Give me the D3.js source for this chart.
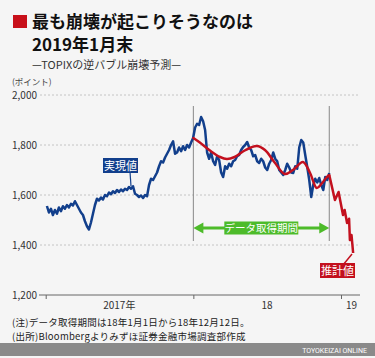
<!DOCTYPE html>
<html><head><meta charset="utf-8">
<script src="https://cdn.jsdelivr.net/npm/d3@7"></script>
<style>
html,body{margin:0;padding:0;background:#f5f5f5;}
svg{display:block;font-family:"Noto Sans CJK JP","Noto Sans",sans-serif;}
</style></head><body>
<svg id="c" width="375" height="358"></svg>
<script>
// ---- data ----
const title1 = "最も崩壊が起こりそうなのは";
const title2 = "2019年1月末";
const subtitle = "—TOPIXの逆バブル崩壊予測—";
const unitLabel = "(ポイント)";
const yTicks = [1200, 1400, 1600, 1800, 2000];
const yearTicks = ["2017-01-01", "2018-01-01", "2019-01-01"];
const yearLabels = ["2017年", "18", "19"];
const yearLabelDates = ["2017-07-02", "2018-07-02", "2019-01-27"];
const periodStart = "2018-01-01";
const periodEnd = "2018-12-03";
const actualStart = "2017-01-04";
const actualEnd = "2018-12-03";
const actualValues = [
 1556,1530,1545,1520,1540,1525,1550,1535,1555,1545,1560,1550,
 1565,1558,1575,1560,1545,1530,1520,1495,1475,1462,1490,1525,
 1560,1585,1578,1590,1582,1600,1595,1610,1603,1615,1608,1620,
 1612,1622,1615,1625,1620,1632,1625,1635,1605,1600,1592,1598,
 1588,1600,1595,1640,1665,1660,1675,1690,1715,1735,1730,1750,
 1765,1780,1800,1815,1765,1770,1790,1775,1795,1780,1800,1790,
 1810,1828,1870,1885,1880,1912,1895,1860,1770,1745,1770,1735,
 1720,1755,1740,1690,1672,1715,1705,1725,1715,1735,1740,1755,
 1760,1780,1792,1800,1812,1790,1780,1755,1760,1735,1728,1745,
 1735,1710,1700,1725,1740,1770,1745,1735,1700,1690,1680,1700,
 1725,1710,1690,1688,1715,1705,1790,1820,1810,1760,1712,1660,
 1592,1640,1665,1650,1668,1640,1620,1672,1660,1688
];
const fitDates = ["2018-01-01","2018-01-17","2018-02-11","2018-03-08","2018-03-25","2018-04-13",
 "2018-05-08","2018-06-07","2018-06-27","2018-07-21","2018-08-15","2018-09-04","2018-09-29",
 "2018-10-16","2018-11-02","2018-11-14","2018-11-27","2018-12-03"];
const fitValues = [1828,1810,1778,1752,1744,1752,1778,1796,1780,1730,1684,1700,1732,1690,1628,1645,1672,1680];
const forecastDates = ["2018-12-03","2018-12-17","2018-12-26","2019-01-06","2019-01-10","2019-01-16",
 "2019-01-21","2019-01-23","2019-01-27","2019-01-31"];
const forecastValues = [1680,1580,1612,1520,1540,1488,1505,1420,1440,1368];
const notes = ["(注)データ取得期間は18年1月1日から18年12月12日。",
 "(出所)Bloombergよりみずほ証券金融市場調査部作成"];
const actualLabel = "実現値", forecastLabel = "推計値", periodLabel = "データ取得期間";
const brand = "TOYOKEIZAI ONLINE";

// ---- drawing ----
const pd = d3.timeParse("%Y-%m-%d");
const svg = d3.select("#c");
const BLUE = "#123f8c", RED = "#c3101e", GREEN = "#4dbb2a";

const x = d3.scaleTime().domain([pd("2017-01-01"), pd("2019-01-01")]).range([45.7, 341]);
const y = d3.scaleLinear().domain([1200, 2000]).range([295, 95]);

svg.append("rect").attr("width",375).attr("height",358).attr("fill","#f5f5f5");

// title
svg.append("rect").attr("x",13).attr("y",15).attr("width",14).attr("height",13).attr("fill","#c8101a");
svg.append("text").attr("x",32).attr("y",28).attr("font-size",17).attr("font-weight","bold").attr("fill","#111").text(title1);
svg.append("text").attr("x",32).attr("y",51).attr("font-size",17).attr("font-weight","bold").attr("fill","#111").text(title2);
svg.append("text").attr("x",32).attr("y",69).attr("font-size",11).attr("fill","#333").text(subtitle);
svg.append("text").attr("x",12).attr("y",85).attr("font-size",8.5).attr("fill","#444").text(unitLabel);

// grid
const gy = svg.append("g");
yTicks.forEach(v => {
  if (v > 1200) gy.append("line").attr("x1",40).attr("x2",360).attr("y1",y(v)).attr("y2",y(v))
    .attr("stroke","#b8b8b8").attr("stroke-width",0.8).attr("stroke-dasharray","2,2");
  gy.append("text").attr("x",37).attr("y",y(v)+3.5).attr("text-anchor","end").attr("font-size",10)
    .attr("fill","#333").text(d3.format(",")(v));
});
// x axis
const xa = svg.append("g").attr("transform","translate(0,295)")
  .call(d3.axisBottom(x).tickValues(yearTicks.map(pd)).tickFormat("").tickSize(4).tickSizeOuter(0));
xa.select(".domain").remove();
xa.selectAll("line").attr("stroke","#666");
svg.append("line").attr("x1",39).attr("x2",360).attr("y1",295).attr("y2",295).attr("stroke","#666").attr("stroke-width",1);
yearLabels.forEach((t,i) => svg.append("text").attr("x",x(pd(yearLabelDates[i]))).attr("y",308.5)
  .attr("text-anchor","middle").attr("font-size",10).attr("fill","#333").text(t));

// period vertical lines
[periodStart, periodEnd].forEach(d => svg.append("line").attr("x1",x(pd(d))).attr("x2",x(pd(d)))
  .attr("y1",106).attr("y2",241).attr("stroke","#888").attr("stroke-width",1));

// actual series
const t0 = pd(actualStart).getTime(), t1 = pd(actualEnd).getTime();
const actual = actualValues.map((v,i) => ({d: new Date(t0 + (t1-t0)*i/(actualValues.length-1)), v}));
const line = d3.line().x(p => x(p.d)).y(p => y(p.v));
svg.append("path").datum(actual).attr("d", line).attr("fill","none").attr("stroke",BLUE)
  .attr("stroke-width",2.5).attr("stroke-linejoin","round");

// fit & forecast
const fit = fitDates.map((d,i) => ({d: pd(d), v: fitValues[i]}));
const fc = forecastDates.map((d,i) => ({d: pd(d), v: forecastValues[i]}));
svg.append("path").datum(fit).attr("d", line.curve(d3.curveCatmullRom)).attr("fill","none")
  .attr("stroke",RED).attr("stroke-width",2.5).attr("stroke-linecap","round");
svg.append("path").datum(fc).attr("d", d3.line().x(p=>x(p.d)).y(p=>y(p.v))).attr("fill","none")
  .attr("stroke",RED).attr("stroke-width",2.5).attr("stroke-linejoin","round");

// period arrow
const ax0 = x(pd(periodStart)), ax1 = x(pd(periodEnd)), ay = 228;
svg.append("line").attr("x1",ax0+8).attr("x2",ax1-8).attr("y1",ay).attr("y2",ay).attr("stroke",GREEN).attr("stroke-width",3);
svg.append("path").attr("d",`M${ax0},${ay} L${ax0+10},${ay-5.5} L${ax0+10},${ay+5.5} Z`).attr("fill",GREEN);
svg.append("path").attr("d",`M${ax1},${ay} L${ax1-10},${ay-5.5} L${ax1-10},${ay+5.5} Z`).attr("fill",GREEN);
const cx = (ax0+ax1)/2;
svg.append("rect").attr("x",cx-37).attr("y",ay-6.5).attr("width",74).attr("height",13).attr("fill",GREEN);
svg.append("text").attr("x",cx).attr("y",ay+4).attr("text-anchor","middle").attr("font-size",10.5)
  .attr("fill","#fff").text(periodLabel);

// actual label
svg.append("line").attr("x1",130).attr("x2",131).attr("y1",172).attr("y2",186).attr("stroke",BLUE).attr("stroke-width",1.2);
svg.append("rect").attr("x",103).attr("y",158).attr("width",35).attr("height",15).attr("fill",BLUE);
svg.append("text").attr("x",120.5).attr("y",169.5).attr("text-anchor","middle").attr("font-size",11)
  .attr("fill","#fff").text(actualLabel);

// forecast label
svg.append("line").attr("x1",343).attr("x2",352).attr("y1",265).attr("y2",254).attr("stroke",RED).attr("stroke-width",1.5);
svg.append("rect").attr("x",320).attr("y",263).attr("width",35).attr("height",15).attr("fill",RED);
svg.append("text").attr("x",337.5).attr("y",274.5).attr("text-anchor","middle").attr("font-size",11)
  .attr("fill","#fff").text(forecastLabel);

// notes
notes.forEach((t,i) => svg.append("text").attr("x",12).attr("y",326 + i*14).attr("font-size",9.5)
  .attr("letter-spacing",0.25).attr("fill","#222").text(t));

// footer
svg.append("rect").attr("x",0).attr("y",343).attr("width",375).attr("height",13).attr("fill","#8a8a8a");
svg.append("text").attr("x",367).attr("y",352.5).attr("text-anchor","end").attr("font-size",7)
  .attr("font-family","Roboto, sans-serif").attr("fill","#fff").text(brand);
</script>
</body></html>
